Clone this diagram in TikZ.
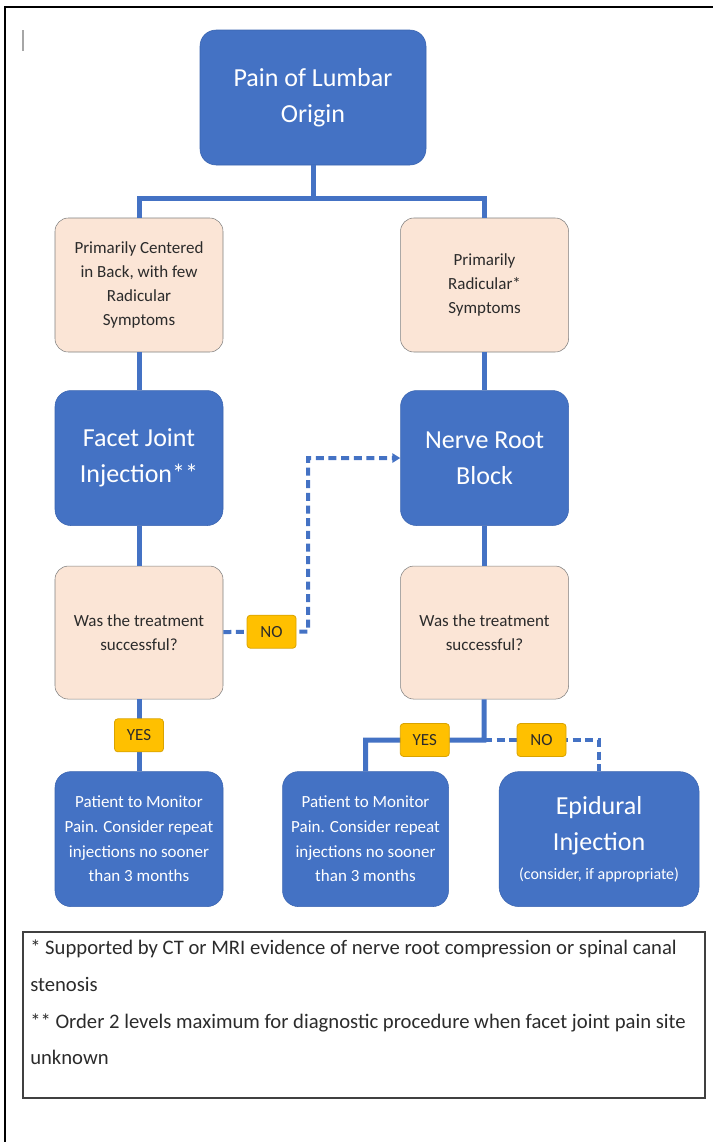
\documentclass[tikz,border=0pt]{standalone}
\usepackage{fontspec}
\setmainfont{Carlito}
\usepackage{tikz}
\usetikzlibrary{positioning,arrows.meta}

\definecolor{boxblue}{HTML}{4472C4}
\definecolor{boxedge}{HTML}{3A64B0}
\definecolor{linkblue}{HTML}{4472C4}
\definecolor{peach}{HTML}{FBE5D6}
\definecolor{peachedge}{HTML}{7F7F7F}
\definecolor{tagyellow}{HTML}{FFC000}
\definecolor{tagedge}{HTML}{D9A300}
\definecolor{textgray}{HTML}{2B2B2B}
\definecolor{notegray}{HTML}{404040}

\begin{document}
\begin{tikzpicture}[
    x=0.75pt, y=-0.75pt,
    >={Triangle[length=6pt,width=7pt]},
    mainbox/.style={draw=boxedge, fill=boxblue, text=white, rounded corners=12pt, align=center,
        minimum width=126pt, minimum height=101.25pt, font=\fontsize{19.5}{27}\selectfont},
    smallblue/.style={mainbox, font=\fontsize{12.75}{18.5}\selectfont},
    askbox/.style={draw=peachedge, fill=peach, text=textgray, rounded corners=10pt, align=center,
        minimum width=126pt, minimum height=100.5pt, font=\fontsize{12.75}{18}\selectfont},
    tag/.style={draw=tagedge, fill=tagyellow, text=textgray, solid, line width=0.6pt,
        rounded corners=2.5pt, inner sep=1pt,
        minimum width=36.75pt, minimum height=24.75pt, font=\fontsize{12.75}{14}\selectfont},
    link/.style={draw=linkblue, line width=3.75pt},
    dlink/.style={draw=linkblue, line width=3pt, dash pattern=on 6pt off 3.5pt},
    notebox/.style={draw=notegray, line width=1pt, minimum width=511.5pt, minimum height=124.5pt},
    notetext/.style={align=left, inner sep=0pt, text=textgray, font=\fontsize{15.5}{27.5}\selectfont}
]
\useasboundingbox (0,0) rectangle (713,1142);

% Frame
\draw[line width=1.5pt] (5,1142) -- (5,7) -- (713,7);
\draw[gray!70, line width=0.8pt] (23,30) -- (23,51);

% Nodes
\node[mainbox, minimum width=169.5pt] (lumbar) at (313,97.5) {Pain of Lumbar\\Origin};
\node[askbox] (back) at (139,285) {Primarily Centered\\in Back, with few\\Radicular\\Symptoms};
\node[askbox] (radic) [right=132.75pt of back] {Primarily\\Radicular*\\Symptoms};

\node[mainbox] (facet) [below=28.5pt of back] {Facet Joint\\Injection**};
\node[mainbox] (nerve) [below=28.5pt of radic] {Nerve Root\\Block};

\node[askbox, minimum height=99.75pt] (askA) [below=30pt of facet] {Was the treatment\\successful?};
\node[askbox, minimum height=99.75pt] (askB) [below=30pt of nerve] {Was the treatment\\successful?};

\node[smallblue] (watchA) [below=54pt of askA] {Patient to Monitor\\Pain. Consider repeat\\injections no sooner\\than 3 months};
\node[smallblue, minimum width=124.5pt] (watchB) [right=44.25pt of watchA] {Patient to Monitor\\Pain. Consider repeat\\injections no sooner\\than 3 months};
\node[mainbox, minimum width=150pt, rounded corners=15pt] (epidural) [right=37.5pt of watchB]
    {Epidural\\Injection\\[-5pt]{\fontsize{12}{14}\selectfont(consider, if appropriate)}};

\node[notebox] (notes) at (364,1015) {};
\node[notetext, anchor=north west] (notetext) at (30,940)
    {* Supported by CT or MRI evidence of nerve root compression or spinal canal\\
     stenosis\\
     ** Order 2 levels maximum for diagnostic procedure when facet joint pain site\\
     unknown};

\coordinate (split) at (313,198);
\coordinate (bendA) at (308,631.5);
\coordinate (forkB) at (484,740);

% Connectors
\draw[link] (lumbar) -- (split);
\draw[link] (back) |- (split) -| (radic);

\draw[link] (back) -- (facet);
\draw[link] (facet) -- (askA);
\draw[link] (radic) -- (nerve);
\draw[link] (nerve) -- (askB);

% Connectors with labels
\draw[link] (askA) -- node[tag] (yesA) {YES} (watchA);

\draw[dlink, ->] (askA) -- node[tag, pos=0.57] (noA) {NO} (bendA) |- (nerve);

\draw[link] (askB) -- (forkB) -| node[tag, pos=0.25] (yesB) {YES} (watchB);
\draw[dlink] (forkB) -| node[tag, pos=0.25] (noB) {NO} (epidural);

\end{tikzpicture}
\end{document}
